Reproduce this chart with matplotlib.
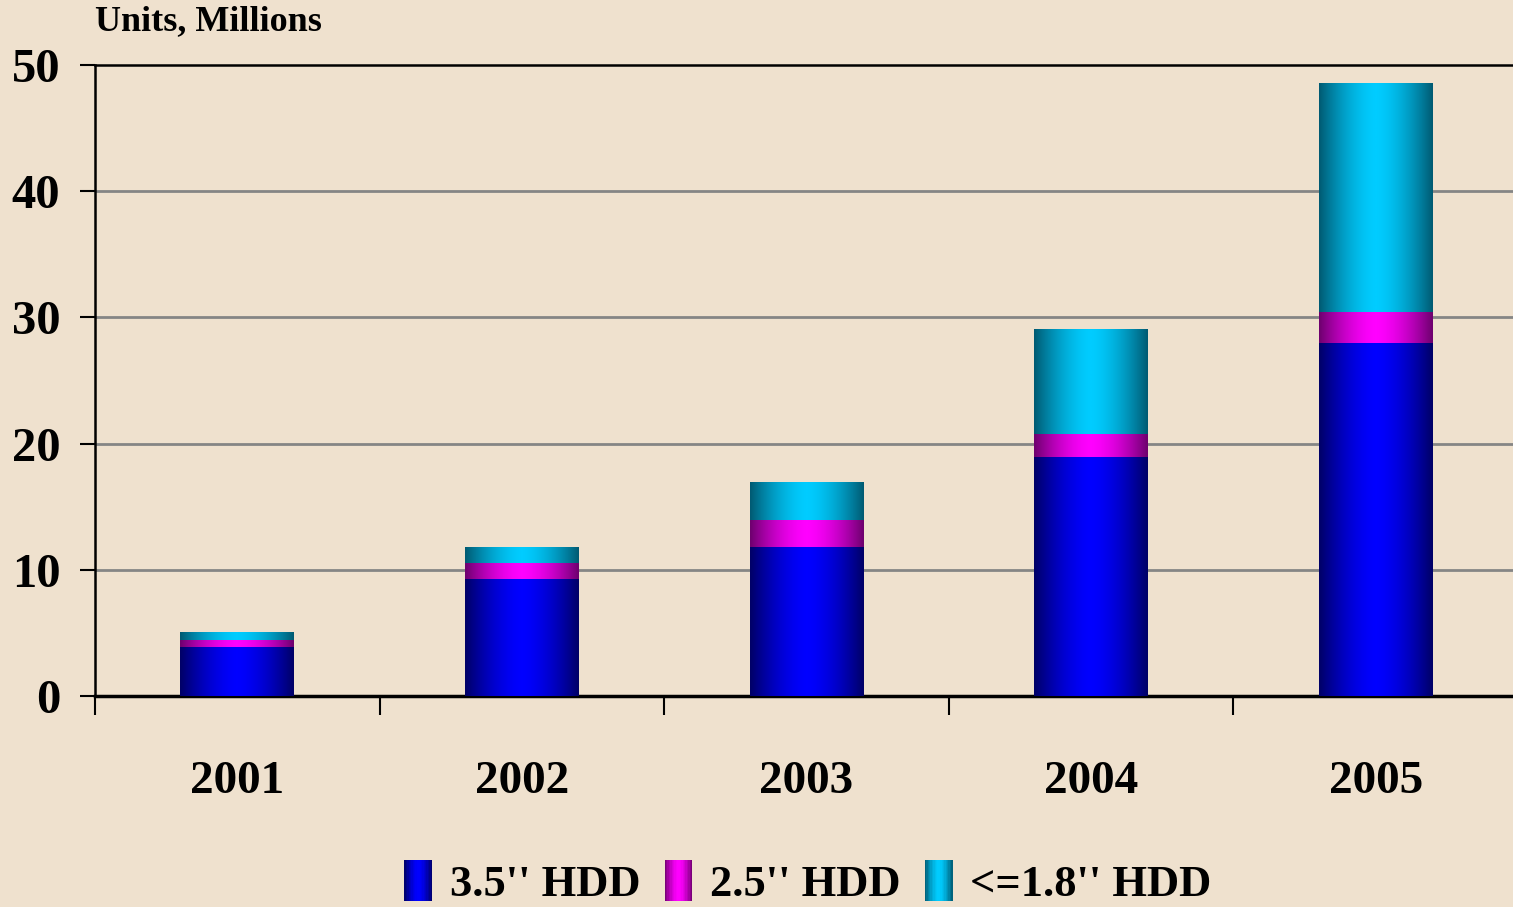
import matplotlib
matplotlib.use('Agg')
import matplotlib.pyplot as plt
import numpy as np
from matplotlib.colors import LinearSegmentedColormap
from matplotlib.patches import Rectangle
from matplotlib.legend_handler import HandlerBase

years = ['2001', '2002', '2003', '2004', '2005']
hdd_35 = [3.9, 9.3, 11.8, 18.9, 28.0]
hdd_25 = [0.5, 1.25, 2.15, 1.9, 2.4]
hdd_18 = [0.6, 1.2, 3.0, 8.25, 18.1]
series_names = ["3.5'' HDD", "2.5'' HDD", "<=1.8'' HDD"]

bg = '#EFE1CE'
# (edge colour, centre colour) for each series
grads = [('#000066', '#0000FF'), ('#6E006E', '#FF00FF'), ('#005A72', '#00CCFF')]

plt.rcParams['font.family'] = ['Liberation Serif', 'DejaVu Serif']
plt.rcParams['font.weight'] = 'bold'

fig = plt.figure(figsize=(15.13, 9.07), dpi=100, facecolor=bg)
ax = fig.add_axes([95/1513, 1-696/907, (1518-95)/1513, (696-65)/907])
ax.set_facecolor(bg)

x = np.arange(len(years))
width = 0.40
t = np.linspace(-1, 1, 256)
prof = 1 - np.abs(t) ** 1.6
img = prof[np.newaxis, :]

bottom = np.zeros(len(years))
for vals, (c0, c1) in zip([hdd_35, hdd_25, hdd_18], grads):
    cmap = LinearSegmentedColormap.from_list('g', [c0, c1])
    bars = ax.bar(x, vals, width, bottom=bottom, color='none', zorder=3)
    for b in bars:
        x0, y0 = b.get_x(), b.get_y()
        ax.imshow(img, cmap=cmap, vmin=0, vmax=1, aspect='auto', zorder=3,
                  extent=(x0, x0 + b.get_width(), y0, y0 + b.get_height()),
                  interpolation='bilinear')
    bottom = bottom + np.array(vals)

ax.set_xlim(-0.5, 4.5)
ax.set_ylim(0, 50)
ax.set_yticks([0, 10, 20, 30, 40, 50])
ax.set_yticklabels(['0', '10', '20', '30', '40', '50'], fontsize=35, fontweight='bold')
ax.tick_params(axis='y', length=11, width=1.5, pad=14)
for yv in [10, 20, 30, 40]:
    ax.axhline(yv, color='#858585', lw=2, zorder=1)

ax.set_xticks(np.arange(-0.5, 5, 1))
ax.set_xticklabels([])
ax.tick_params(axis='x', which='major', length=14, width=1.5)
ax.set_xticks(x, minor=True)
ax.set_xticklabels(years, minor=True, fontsize=34, fontweight='bold')
ax.tick_params(axis='x', which='minor', length=0, pad=47)

for s in ['left', 'top']:
    ax.spines[s].set_linewidth(1.8)
ax.spines['bottom'].set_linewidth(2.5)
ax.spines['right'].set_visible(False)

fig.text(95/1513, 1-22/907, 'Units, Millions', fontsize=26, fontweight='bold',
         va='center', ha='left')


class GradHandler(HandlerBase):
    def __init__(self, c0, c1):
        super().__init__()
        self.cmap = LinearSegmentedColormap.from_list('g', [c0, c1])

    def create_artists(self, legend, orig_handle, xdescent, ydescent,
                       width, height, fontsize, trans):
        n = 20
        w = width / n
        arts = []
        for i in range(n):
            v = 1 - abs((i + 0.5) / n * 2 - 1) ** 1.6
            r = Rectangle((-xdescent + i * w, -ydescent - 0.1 * height), w * 1.05, height * 1.2,
                          facecolor=self.cmap(v), edgecolor='none', transform=trans)
            arts.append(r)
        return arts


handles = [Rectangle((0, 0), 1, 1) for _ in series_names]
hmap = {h: GradHandler(*g) for h, g in zip(handles, grads)}
fig.legend(handles, series_names, handler_map=hmap, loc='center',
           bbox_to_anchor=(808/1513, 1-884/907), ncol=3, frameon=False,
           handlelength=0.62, handleheight=0.8, handletextpad=0.4,
           columnspacing=0.55, prop={'weight': 'bold', 'size': 32})

fig.savefig('out.png', dpi=100, facecolor=bg)
